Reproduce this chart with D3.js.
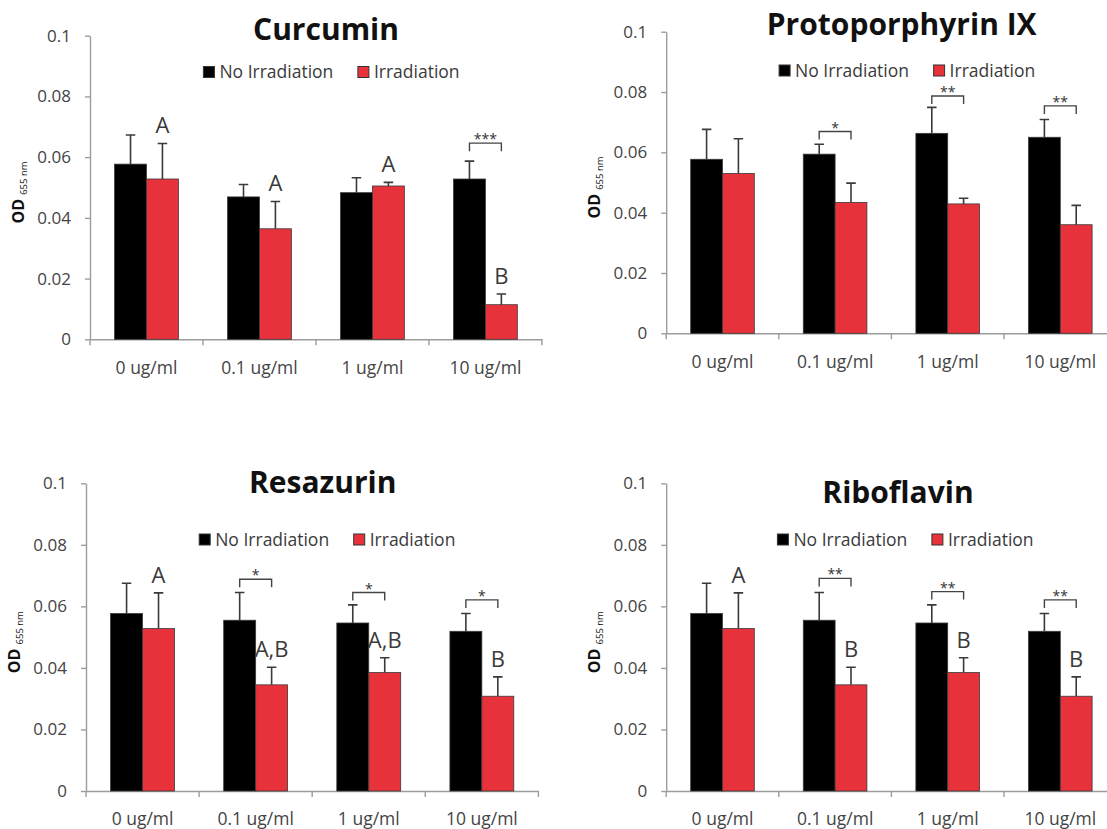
<!DOCTYPE html>
<html>
<head>
<meta charset="utf-8">
<script src="https://cdn.jsdelivr.net/npm/d3@7"></script>
<style>
  body { margin: 0; background: #fff; }
  svg { display: block; font-family: "Open Sans", sans-serif; }
</style>
</head>
<body>
<svg id="chart" width="1107" height="829"></svg>
<script>
// shared axis stuff
var categories = ["0 ug/ml", "0.1 ug/ml", "1 ug/ml", "10 ug/ml"];
var series = ["No Irradiation", "Irradiation"];
var yTicks = [0, 0.02, 0.04, 0.06, 0.08, 0.1];
var yTickLabels = ["0", "0.02", "0.04", "0.06", "0.08", "0.1"];

// Curcumin
var curcuminNoIrr = [0.0577, 0.0469, 0.0483, 0.0528];
var curcuminNoIrrErr = [0.0096, 0.0041, 0.0049, 0.0059];
var curcuminIrr = [0.0528, 0.0364, 0.0505, 0.0114];
var curcuminIrrErr = [0.0117, 0.0090, 0.0012, 0.0035];
var curcuminLetters = ["A", "A", "A", "B"];
var curcuminStars = ["", "", "", "***"];
var curcuminStarLevel = [null, null, null, 0.0646];

// Protoporphyrin IX
var ppixNoIrr = [0.0577, 0.0594, 0.0663, 0.0650];
var ppixNoIrrErr = [0.0099, 0.0033, 0.0086, 0.0059];
var ppixIrr = [0.0530, 0.0434, 0.0429, 0.0360];
var ppixIrrErr = [0.0115, 0.0064, 0.0019, 0.0064];
var ppixLetters = ["", "", "", ""];
var ppixStars = ["", "*", "**", "**"];
var ppixStarLevel = [null, 0.0669, 0.0787, 0.0754];

// Resazurin
var resaNoIrr = [0.0577, 0.0555, 0.0546, 0.0519];
var resaNoIrrErr = [0.0098, 0.0090, 0.0059, 0.0058];
var resaIrr = [0.0528, 0.0345, 0.0385, 0.0308];
var resaIrrErr = [0.0116, 0.0057, 0.0048, 0.0063];
var resaLetters = ["A", "A,B", "A,B", "B"];
var resaStars = ["", "*", "*", "*"];
var resaStarLevel = [null, 0.0688, 0.0645, 0.0621];

// Riboflavin
var riboNoIrr = [0.0577, 0.0555, 0.0546, 0.0519];
var riboNoIrrErr = [0.0098, 0.0090, 0.0059, 0.0058];
var riboIrr = [0.0528, 0.0345, 0.0385, 0.0308];
var riboIrrErr = [0.0116, 0.0057, 0.0048, 0.0063];
var riboLetters = ["A", "B", "B", "B"];
var riboStars = ["", "**", "**", "**"];
var riboStarLevel = [null, 0.0691, 0.0648, 0.0621];

var colors = {"No Irradiation": "#000000", "Irradiation": "#e8323b"};

// where each panel sits on the page
var panels = [
  {title: "Curcumin", noIrr: curcuminNoIrr, noIrrErr: curcuminNoIrrErr, irr: curcuminIrr, irrErr: curcuminIrrErr,
   letters: curcuminLetters, stars: curcuminStars, starLevel: curcuminStarLevel,
   left: 90, right: 541.9, top: 35.7, zero: 339.3, titleX: 326, titleY: 40, legX: 203.4, legY: 78},
  {title: "Protoporphyrin IX", noIrr: ppixNoIrr, noIrrErr: ppixNoIrrErr, irr: ppixIrr, irrErr: ppixIrrErr,
   letters: ppixLetters, stars: ppixStars, starLevel: ppixStarLevel,
   left: 666.2, right: 1116.6, top: 31.7, zero: 333.3, titleX: 901.7, titleY: 35, legX: 779.1, legY: 76.5},
  {title: "Resazurin", noIrr: resaNoIrr, noIrrErr: resaNoIrrErr, irr: resaIrr, irrErr: resaIrrErr,
   letters: resaLetters, stars: resaStars, starLevel: resaStarLevel,
   left: 86, right: 538.4, top: 483.3, zero: 791, titleX: 322.7, titleY: 493.3, legX: 199.2, legY: 545.5},
  {title: "Riboflavin", noIrr: riboNoIrr, noIrrErr: riboNoIrrErr, irr: riboIrr, irrErr: riboIrrErr,
   letters: riboLetters, stars: riboStars, starLevel: riboStarLevel,
   left: 666.2, right: 1116.6, top: 483.3, zero: 791, titleX: 898, titleY: 503.3, legX: 777.4, legY: 545.5}
];

var svg = d3.select("#chart");
var axisColor = "#9c9c9c", textColor = "#444";

function drawPanel(p) {
  var x = d3.scaleBand().domain(categories).range([p.left, p.right]);
  var xs = d3.scaleBand().domain(series).range([0, x.bandwidth()]).paddingInner(0).paddingOuter(0.77);
  var y = d3.scaleLinear().domain([0, 0.1]).range([p.zero, p.top]);
  var g = svg.append("g");

  // y axis
  var ya = g.append("g")
    .attr("transform", "translate(" + p.left + ",0)")
    .call(d3.axisLeft(y).tickValues(yTicks).tickSize(5).tickSizeOuter(0).tickPadding(14)
      .tickFormat(function(d, i) { return yTickLabels[i]; }));
  ya.attr("font-size", null).attr("font-family", null);
  ya.select(".domain").attr("stroke", axisColor).attr("stroke-width", 1.4);
  ya.selectAll(".tick line").attr("stroke", axisColor).attr("stroke-width", 1.4);
  ya.selectAll(".tick text").attr("font-size", "17px").attr("fill", textColor);

  // x axis, labels in the middle, ticks on the borders
  var xa = g.append("g")
    .attr("transform", "translate(0," + p.zero + ")")
    .call(d3.axisBottom(x).tickSize(0).tickSizeOuter(0).tickPadding(22));
  xa.attr("font-size", null).attr("font-family", null);
  xa.select(".domain").attr("stroke", axisColor).attr("stroke-width", 1.4);
  xa.selectAll(".tick text").attr("font-size", "17.5px").attr("fill", textColor);
  var borders = categories.map(function(c) { return x(c); }).concat([x.range()[1]]);
  xa.selectAll(".border").data(borders).enter().append("line")
    .attr("x1", function(d) { return d; }).attr("x2", function(d) { return d; })
    .attr("y1", 0).attr("y2", 6)
    .attr("stroke", axisColor).attr("stroke-width", 1.4);

  // bars
  var rows = [];
  categories.forEach(function(c, i) {
    rows.push({cat: c, s: "No Irradiation", v: p.noIrr[i], e: p.noIrrErr[i], letter: ""});
    rows.push({cat: c, s: "Irradiation", v: p.irr[i], e: p.irrErr[i], letter: p.letters[i]});
  });

  g.selectAll(".bar").data(rows).enter().append("rect")
    .attr("class", "bar")
    .attr("x", function(d) { return x(d.cat) + xs(d.s); })
    .attr("y", function(d) { return y(d.v); })
    .attr("width", xs.bandwidth())
    .attr("height", function(d) { return y(0) - y(d.v); })
    .attr("fill", function(d) { return colors[d.s]; })
    .attr("stroke", "#3a3a3a").attr("stroke-width", 0.8);

  // error bars (upper only)
  var mid = function(d) { return x(d.cat) + xs(d.s) + xs.bandwidth() / 2; };
  g.selectAll(".err").data(rows).enter().append("path")
    .attr("d", function(d) {
      var cx = mid(d), y0 = y(d.v), y1 = y(d.v + d.e);
      return "M" + cx + "," + y0 + "V" + y1 + "M" + (cx - 4.75) + "," + y1 + "H" + (cx + 4.75);
    })
    .attr("fill", "none").attr("stroke", "#3a3a3a").attr("stroke-width", 1.6);

  // group letters above the red bars
  g.selectAll(".letter").data(rows.filter(function(d) { return d.letter; })).enter().append("text")
    .attr("x", mid)
    .attr("y", function(d) { return y(d.v + d.e) - 10; })
    .attr("text-anchor", "middle")
    .attr("font-size", "22px").attr("fill", "#3a3a3a")
    .text(function(d) { return d.letter; });

  // significance brackets
  var sig = categories.map(function(c, i) { return {cat: c, stars: p.stars[i], level: p.starLevel[i]}; })
    .filter(function(d) { return d.stars; });
  var bx0 = function(d) { return x(d.cat) + xs("No Irradiation") + xs.bandwidth() / 2; };
  var bx1 = function(d) { return x(d.cat) + xs("Irradiation") + xs.bandwidth() / 2; };
  g.selectAll(".bracket").data(sig).enter().append("path")
    .attr("d", function(d) {
      var yy = y(d.level);
      return "M" + bx0(d) + "," + (yy + 8) + "V" + yy + "H" + bx1(d) + "V" + (yy + 8);
    })
    .attr("fill", "none").attr("stroke", "#444").attr("stroke-width", 1.4);
  g.selectAll(".stars").data(sig).enter().append("text")
    .attr("x", function(d) { return (bx0(d) + bx1(d)) / 2; })
    .attr("y", function(d) { return y(d.level) + 1; })
    .attr("text-anchor", "middle")
    .attr("font-size", "14px").attr("fill", "#333")
    .text(function(d) { return d.stars; });

  // title
  g.append("text")
    .attr("x", p.titleX).attr("y", p.titleY)
    .attr("text-anchor", "middle")
    .attr("font-size", "30px").attr("font-weight", "bold").attr("fill", "#111")
    .text(p.title);

  // legend
  var leg = g.append("g");
  var legX = [p.legX, p.legX + 154.5];
  series.forEach(function(s, i) {
    leg.append("rect")
      .attr("x", legX[i]).attr("y", p.legY - 11.5)
      .attr("width", 11).attr("height", 11)
      .attr("fill", colors[s]).attr("stroke", "#333").attr("stroke-width", 1);
    leg.append("text")
      .attr("x", legX[i] + 16).attr("y", p.legY)
      .attr("font-size", "17.5px").attr("fill", "#3a3a3a")
      .text(s);
  });

  // y label
  var lab = g.append("text")
    .attr("transform", "translate(" + (p.left - 66) + "," + ((p.top + p.zero) / 2 + 5) + ") rotate(-90)")
    .attr("text-anchor", "middle")
    .attr("fill", "#111");
  lab.append("tspan").attr("font-size", "16px").attr("font-weight", "bold").text("OD ");
  lab.append("tspan").attr("font-size", "9.5px").attr("dy", "3").text("655 nm");
}

panels.forEach(drawPanel);
</script>
</body>
</html>
